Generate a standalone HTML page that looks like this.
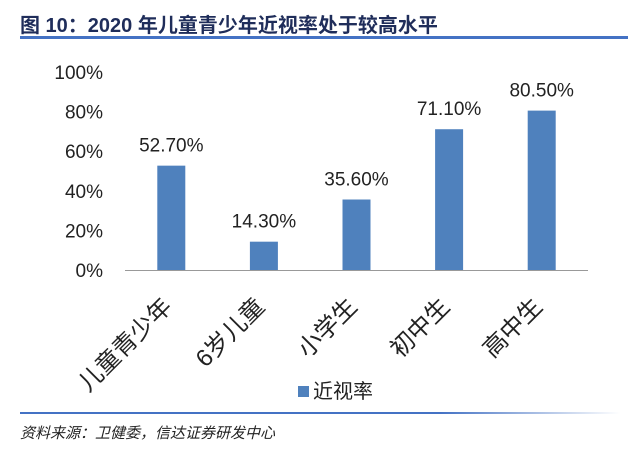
<!DOCTYPE html>
<html><head><meta charset="utf-8"><style>
body{margin:0;width:640px;height:444px;background:#fff;overflow:hidden;font-family:"Liberation Sans","Noto Sans CJK SC",sans-serif;}
</style></head><body>
<svg width="640" height="444" xmlns="http://www.w3.org/2000/svg">
<text x="20" y="32" font-size="20" font-weight="bold" fill="#1f2d5a" font-family="Liberation Sans, Noto Sans CJK SC, sans-serif">图 10：2020 年儿童青少年近视率处于较高水平</text>
<rect x="20" y="36" width="608" height="3" fill="#4472c4"/>
<defs><linearGradient id="fade" x1="0" x2="1"><stop offset="0.7" stop-color="#4472c4"/><stop offset="1" stop-color="#4472c4" stop-opacity="0"/></linearGradient></defs>
<rect x="20" y="412" width="600" height="2" fill="url(#fade)"/>
<text x="20" y="438" font-size="15" font-style="italic" fill="#222" font-family="Liberation Sans, Noto Sans CJK SC, sans-serif">资料来源：卫健委，信达证券研发中心</text>
<g id="plot"></g>
<rect x="298" y="386" width="11" height="11" fill="#4f81bd"/>
<text x="313" y="398" font-size="20" fill="#222">近视率</text>
</svg>
<script>
const categories=["儿童青少年","6岁儿童","小学生","初中生","高中生"];
const values=[52.7,14.3,35.6,71.1,80.5];
const yTicks=[0,20,40,60,80,100];
const x0=125,x1=588,yBase=270,yTop=72;
const ns="http://www.w3.org/2000/svg";
const g=document.getElementById("plot");
const y=v=>yBase-(v/100)*(yBase-yTop);
const band=(x1-x0)/categories.length;
const xc=i=>x0+band*(i+0.5);
function mk(t,a){const e=document.createElementNS(ns,t);for(const k in a)e.setAttribute(k,a[k]);g.appendChild(e);return e;}
yTicks.forEach(t=>{const e=mk("text",{x:103,y:y(t)+7,"text-anchor":"end","font-size":19,fill:"#222"});e.textContent=t+"%";

});
values.forEach((v,i)=>{const b=mk("rect",{x:xc(i)-14,y:y(v),width:28,height:yBase-y(v),fill:"#4f81bd"});


const l=mk("text",{x:xc(i),y:y(v)-14,"text-anchor":"middle","font-size":19,fill:"#222"});l.textContent=v.toFixed(2)+"%";


const c=mk("text",{x:0,y:0,"text-anchor":"end","font-size":24,fill:"#222",transform:`translate(${xc(i)+2},${yBase+38}) rotate(-45)`});c.textContent=categories[i];

});
const ax=mk("line",{x1:x0,x2:x1,y1:yBase+0.5,y2:yBase+0.5,stroke:"#999","stroke-width":1});


</script>
</body></html>
